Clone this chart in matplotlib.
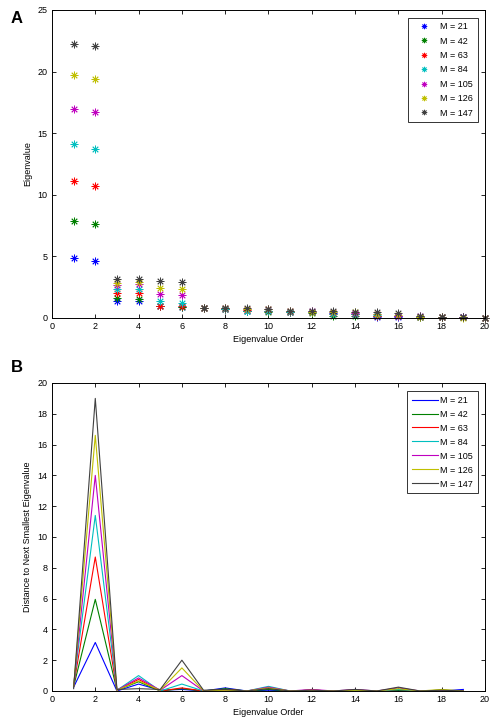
import numpy as np
import matplotlib
matplotlib.use('Agg')
import matplotlib.pyplot as plt

plt.rcParams['font.family'] = ['Liberation Sans', 'DejaVu Sans']

# === data ===
m_labels = ['M = 21', 'M = 42', 'M = 63', 'M = 84', 'M = 105', 'M = 126', 'M = 147']
colors = [(0, 0, 1), (0, 0.5, 0), (1, 0, 0), (0, 0.75, 0.75),
          (0.75, 0, 0.75), (0.75, 0.75, 0), (0.25, 0.25, 0.25)]

order_a = list(range(1, 21))
eig_m21 = [4.85, 4.6, 1.4, 1.4, 0.95, 0.9, 0.8, 0.75, 0.6, 0.6, 0.5, 0.45, 0.4, 0.35, 0.1, 0.05, 0.05, 0.05, 0.05, 0.0]
eig_m42 = [7.9, 7.6, 1.65, 1.55, 0.95, 0.9, 0.8, 0.75, 0.55, 0.5, 0.45, 0.4, 0.2, 0.2, 0.2, 0.15, 0.1, 0.05, 0.05, 0.0]
eig_m63 = [11.1, 10.75, 2.05, 2.0, 1.0, 0.95, 0.8, 0.75, 0.65, 0.6, 0.5, 0.45, 0.35, 0.3, 0.2, 0.15, 0.1, 0.05, 0.05, 0.0]
eig_m84 = [14.1, 13.7, 2.35, 2.35, 1.35, 1.25, 0.8, 0.75, 0.6, 0.55, 0.45, 0.45, 0.3, 0.3, 0.25, 0.15, 0.1, 0.05, 0.05, 0.0]
eig_m105 = [17.0, 16.7, 2.7, 2.75, 1.95, 1.85, 0.85, 0.8, 0.75, 0.75, 0.6, 0.55, 0.45, 0.4, 0.3, 0.15, 0.15, 0.05, 0.05, 0.0]
eig_m126 = [19.7, 19.4, 2.85, 2.95, 2.4, 2.35, 0.85, 0.8, 0.75, 0.7, 0.55, 0.5, 0.5, 0.45, 0.35, 0.25, 0.1, 0.1, 0.0, 0.0]
eig_m147 = [22.2, 22.05, 3.15, 3.15, 3.0, 2.9, 0.85, 0.8, 0.8, 0.7, 0.6, 0.55, 0.55, 0.5, 0.45, 0.4, 0.15, 0.1, 0.05, 0.0]

order_b = list(range(1, 20))
gap_m21 = [0.25, 3.15, 0.0, 0.45, 0.05, 0.1, 0.0, 0.2, 0.0, 0.05, 0.0, 0.05, 0.0, 0.05, 0.0, 0.05, 0.0, 0.0, 0.1]
gap_m42 = [0.3, 5.95, 0.05, 0.6, 0.0, 0.15, 0.0, 0.15, 0.0, 0.1, 0.0, 0.05, 0.0, 0.05, 0.0, 0.05, 0.0, 0.05, 0.0]
gap_m63 = [0.35, 8.7, 0.05, 0.75, 0.0, 0.2, 0.0, 0.1, 0.0, 0.2, 0.0, 0.05, 0.0, 0.05, 0.0, 0.1, 0.0, 0.0, 0.0]
gap_m84 = [0.4, 11.4, 0.05, 1.0, 0.0, 0.45, 0.0, 0.05, 0.0, 0.3, 0.0, 0.0, 0.0, 0.05, 0.0, 0.1, 0.0, 0.0, 0.0]
gap_m105 = [0.3, 14.0, 0.05, 0.85, 0.05, 1.0, 0.0, 0.05, 0.0, 0.25, 0.0, 0.1, 0.0, 0.1, 0.0, 0.2, 0.0, 0.0, 0.0]
gap_m126 = [0.3, 16.6, 0.05, 0.65, 0.05, 1.5, 0.0, 0.05, 0.0, 0.2, 0.0, 0.05, 0.0, 0.05, 0.0, 0.15, 0.0, 0.1, 0.0]
gap_m147 = [0.15, 19.0, 0.1, 0.15, 0.1, 2.0, 0.05, 0.1, 0.0, 0.15, 0.0, 0.05, 0.0, 0.1, 0.0, 0.25, 0.0, 0.05, 0.0]

eig_all = [eig_m21, eig_m42, eig_m63, eig_m84, eig_m105, eig_m126, eig_m147]
gap_all = [gap_m21, gap_m42, gap_m63, gap_m84, gap_m105, gap_m126, gap_m147]

fig = plt.figure(figsize=(4.96, 7.24), dpi=100)
ax_a = fig.add_axes([0.1048, 0.5608, 0.8730, 0.4254])
ax_b = fig.add_axes([0.1048, 0.0456, 0.8730, 0.4254])


def matlab_style(ax):
    ax.tick_params(direction='in', top=True, right=True, labelsize=6.5,
                   length=3, width=0.6, pad=3)
    for s in ax.spines.values():
        s.set_linewidth(0.7)
    ax.set_xlim(0, 20)
    ax.set_xticks(range(0, 21, 2))
    ax.set_xlabel('Eigenvalue Order', fontsize=6.5, labelpad=3)


asterisk = (8, 2, 0)

# A: eigenvalues
for vals, col, lab in zip(eig_all, colors, m_labels):
    ax_a.plot(order_a, vals, linestyle='none', marker=asterisk, markersize=5.5,
              markeredgewidth=0.6, color=col, label=lab, clip_on=False)
matlab_style(ax_a)
ax_a.set_ylim(0, 25)
ax_a.set_yticks(range(0, 26, 5))
ax_a.set_ylabel('Eigenvalue', fontsize=6.5, labelpad=4)
leg = ax_a.legend(loc='upper right', fontsize=6.5, frameon=True, fancybox=False,
                  edgecolor='black', borderpad=0.5, labelspacing=0.6,
                  handlelength=2.6, handletextpad=0.5, markerscale=0.7,
                  bbox_to_anchor=(0.994, 0.99))
leg.get_frame().set_linewidth(0.7)

# B: distance to next smaller eigenvalue
for vals, col, lab in zip(gap_all, colors, m_labels):
    ax_b.plot(order_b, vals, color=col, linewidth=0.8, label=lab)
matlab_style(ax_b)
ax_b.set_ylim(0, 20)
ax_b.set_yticks(range(0, 21, 2))
ax_b.set_ylabel('Distance to Next Smallest Eigenvalue', fontsize=6.5, labelpad=4)
leg = ax_b.legend(loc='upper right', fontsize=6.5, frameon=True, fancybox=False,
                  edgecolor='black', borderpad=0.5, labelspacing=0.55,
                  handlelength=2.9, handletextpad=0.3,
                  bbox_to_anchor=(0.994, 0.988))
leg.get_frame().set_linewidth(0.7)

fig.text(0.022, 0.975, 'A', fontsize=12, fontweight='bold', va='center')
fig.text(0.022, 0.493, 'B', fontsize=12, fontweight='bold', va='center')

fig.savefig('out.png', dpi=100)
